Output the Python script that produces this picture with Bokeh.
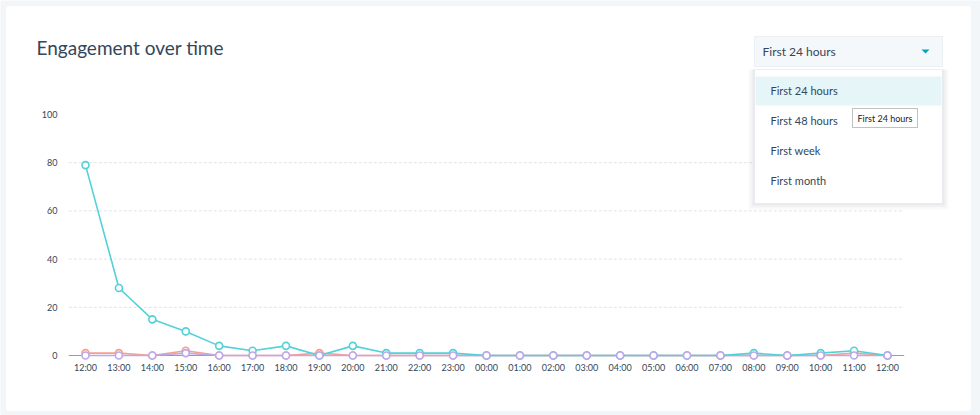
from bokeh.plotting import figure
from bokeh.models import Label, BoxAnnotation, PolyAnnotation, Range1d
from bokeh.core.properties import value
from bokeh.embed import file_html
from bokeh.resources import INLINE

hours = ["12:00", "13:00", "14:00", "15:00", "16:00", "17:00", "18:00", "19:00", "20:00",
         "21:00", "22:00", "23:00", "00:00", "01:00", "02:00", "03:00", "04:00", "05:00",
         "06:00", "07:00", "08:00", "09:00", "10:00", "11:00", "12:00"]
teal_vals = [79, 28, 15, 10, 4, 2, 4, 0, 4, 1, 1, 1, 0, 0, 0, 0, 0, 0, 0, 0, 1, 0, 1, 2, 0]
salmon_vals = [1, 1, 0, 2, 0, 0, 0, 1, 0, 0, 0, 0, 0, 0, 0, 0, 0, 0, 0, 0, 0, 0, 0, 1, 0]
purple_vals = [0, 0, 0, 1, 0, 0, 0, 0, 0, 0, 0, 0, 0, 0, 0, 0, 0, 0, 0, 0, 0, 0, 0, 0, 0]
y_ticks = [0, 20, 40, 60, 80, 100]
menu_items = ["First 24 hours", "First 48 hours", "First week", "First month"]
title_text = "Engagement over time"
selected = "First 24 hours"

xs = list(range(len(hours)))

W, H = 980, 415
# page pixel geometry of the plotting area
X0_PX, XN_PX = 85, 887       # first / last time point
Y0_PX, Y100_PX = 355, 114    # value 0 / value 100
kx = (XN_PX - X0_PX) / (len(hours) - 1)
ky = (Y0_PX - Y100_PX) / 100.0

TXT = "#33475b"
p = figure(width=W, height=H, output_backend="svg", toolbar_location=None,
           x_range=Range1d(-X0_PX / kx, (W - X0_PX) / kx),
           y_range=Range1d(-(H - Y0_PX) / ky, Y0_PX / ky),
           min_border=0)
p.outline_line_color = None
p.background_fill_color = "#f3f6f9"
p.border_fill_color = "#f3f6f9"
p.axis.visible = False
p.grid.visible = False


def sx(px):
    return px


def sy(py):
    return H - py


def box(l, t, r, b, **kw):
    return BoxAnnotation(left=sx(l), right=sx(r), top=sy(t), bottom=sy(b), left_units="screen",
                         right_units="screen", top_units="screen", bottom_units="screen", **kw)


def label(px, py, text, **kw):
    return Label(x=sx(px), y=sy(py), x_units="screen", y_units="screen", text=text,
                 text_baseline="middle", **kw)


# white card
p.add_layout(box(5, 5, 971, 411, fill_color="white", fill_alpha=1, line_color="#e6ecf2",
                 line_width=1, border_radius=4, level="underlay"))

# grid lines and baseline (span half a step beyond the first/last point)
gx0 = xs[0] - 0.5
gx1 = xs[-1] + 0.5
grid_y = [t for t in y_ticks if 0 < t < 100]
p.segment(x0=[gx0] * len(grid_y), x1=[gx1] * len(grid_y), y0=grid_y, y1=grid_y,
          line_color="#dfe3eb", line_width=1, line_dash="3 2")
p.segment(x0=[gx0], x1=[gx1], y0=[0], y1=[0], line_color="#8d9db5", line_width=1)

# tick labels
p.text(x=xs, y=[0] * len(xs), text=hours, text_font=value("Lato"), text_font_size="9px",
       text_color=TXT, text_align="center", text_baseline="top", y_offset=6)
p.text(x=[xs[0]] * len(y_ticks), y=y_ticks, text=[str(t) for t in y_ticks], text_font=value("Lato"),
       text_font_size="9px", text_color=TXT, text_align="right", text_baseline="middle", x_offset=-28)

for vals, col in [(salmon_vals, "#f5a08e"), (purple_vals, "#bca8ea"), (teal_vals, "#52d2d8")]:
    p.line(xs, vals, line_color=col, line_width=1.6)
for vals, col in [(salmon_vals, "#f5a08e"), (teal_vals, "#52d2d8"), (purple_vals, "#bca8ea")]:
    p.scatter(xs, vals, size=7, marker="circle", fill_color="white", line_color=col, line_width=1.6)

# title
p.add_layout(label(36, 47, title_text, text_font="Lato", text_font_size="19px", text_color=TXT))

# dropdown button
p.add_layout(box(754, 36, 942, 66, fill_color="#f5f8fa", fill_alpha=1, line_color="#cbd6e2", line_width=1))
p.add_layout(label(762, 51, selected, text_font="Lato", text_font_size="12px", text_color=TXT))
p.add_layout(PolyAnnotation(xs=[sx(921), sx(929), sx(925)], ys=[sy(49), sy(49), sy(53)],
                            xs_units="screen", ys_units="screen",
                            fill_color="#00a4bd", fill_alpha=1, line_color=None))

# menu shadow
for d, a in [(6, 0.025), (4, 0.035), (2, 0.045)]:
    p.add_layout(box(754 - d, 69, 942 + d, 203 + d, fill_color="#2d3e50", fill_alpha=a, line_color=None))
p.add_layout(box(754, 69, 942, 203, fill_color="white", fill_alpha=1, line_color="#cbd6e2", line_width=1))
p.add_layout(box(755, 76, 941, 105, fill_color="#e5f5f8", fill_alpha=1, line_color=None))
for i, item in enumerate(menu_items):
    p.add_layout(label(770, 90 + 30 * i, item, text_font="Lato", text_font_size="11px", text_color=TXT))

# tooltip
p.add_layout(box(852, 108, 917, 127, fill_color="white", fill_alpha=1, line_color="#333333", line_width=1))
p.add_layout(label(857, 117.5, selected, text_font="Lato", text_font_size="9px", text_color="#222222"))

open("out.html", "w").write(file_html(p, INLINE))
